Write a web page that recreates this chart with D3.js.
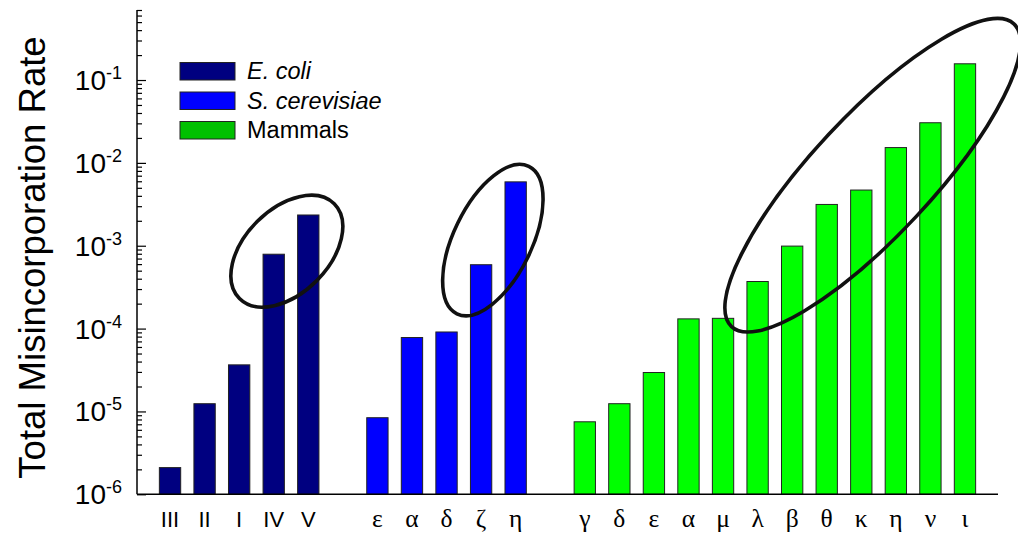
<!DOCTYPE html>
<html><head><meta charset="utf-8">
<script src="https://cdn.jsdelivr.net/npm/d3@7"></script>
<style>body{margin:0;background:#fff} svg{display:block}</style>
</head><body>
<svg id="chart" width="1018" height="533"></svg>
<script>
// ---- data ----
const ecoliLabels = ["III", "II", "I", "IV", "V"];
const ecoliValues = [2.1e-6, 1.24e-5, 3.65e-5, 7.9e-4, 2.35e-3];
const yeastLabels = ["ε", "α", "δ", "ζ", "η"];
const yeastValues = [8.4e-6, 7.8e-5, 9.1e-5, 5.9e-4, 5.9e-3];
const mammalLabels = ["γ", "δ", "ε", "α", "μ", "λ", "β", "θ", "κ", "η", "ν", "ι"];
const mammalValues = [7.5e-6, 1.24e-5, 2.95e-5, 1.31e-4, 1.33e-4, 3.7e-4, 9.9e-4, 3.15e-3, 4.7e-3, 1.53e-2, 3.05e-2, 0.157];
const seriesNames = ["E. coli", "S. cerevisiae", "Mammals"];
const yTickExponents = [-6, -5, -4, -3, -2, -1];
const yTitle = "Total Misincorporation Rate";

// ---- styling / layout ----
const W = 1018, H = 533;
const margin = {left: 137, right: 20, top: 10, bottom: 38.7};
const barColors = ["#000080", "#0000ff", "#00ff00"];
const legendColors = ["#000080", "#0000ff", "#00c000"];
const labelFonts = ["Liberation Sans, Arial, sans-serif", "Liberation Serif, Times New Roman, serif", "Liberation Serif, Times New Roman, serif"];
const labelSizes = [22, 25.5, 25.5];

const groups = [
  {name: seriesNames[0], labels: ecoliLabels, values: ecoliValues},
  {name: seriesNames[1], labels: yeastLabels, values: yeastValues},
  {name: seriesNames[2], labels: mammalLabels, values: mammalValues}
];

const slots = [];
groups.forEach((g, gi) => {
  if (gi > 0) slots.push({key: "gap" + gi, gap: true});
  g.labels.forEach((l, i) => slots.push({key: g.name + "|" + l, label: l, value: g.values[i], gi}));
});
const bars = slots.filter(s => !s.gap);

const svg = d3.select("#chart");
const x = d3.scaleBand().domain(slots.map(s => s.key))
  .range([margin.left, 998]).paddingInner(0.383).paddingOuter(0.647);
const y = d3.scaleLog().domain([1e-6, 0.7]).range([H - margin.bottom, margin.top]);

// bars
svg.append("g").selectAll("rect").data(bars).join("rect")
  .attr("x", d => x(d.key))
  .attr("width", x.bandwidth())
  .attr("y", d => y(d.value))
  .attr("height", d => y(1e-6) - y(d.value))
  .attr("fill", d => barColors[d.gi])
  .attr("stroke", "#222").attr("stroke-width", 1);

// y axis ticks (pointing inward)
const majors = yTickExponents.map(e => Math.pow(10, e));
const minors = [];
yTickExponents.forEach(e => { for (let k = 2; k <= 9; k++) { const v = k * Math.pow(10, e); if (v <= 0.7 + 1e-12) minors.push(v); } });

const yAxisMajor = d3.axisLeft(y).tickValues(majors).tickSizeInner(-9).tickSizeOuter(0).tickFormat("");
const yAxisMinor = d3.axisLeft(y).tickValues(minors).tickSizeInner(-5).tickSizeOuter(0).tickFormat("");
const gy1 = svg.append("g").attr("transform", `translate(${margin.left},0)`).call(yAxisMajor);
const gy2 = svg.append("g").attr("transform", `translate(${margin.left},0)`).call(yAxisMinor);
[gy1, gy2].forEach(g => { g.select(".domain").remove(); g.selectAll("line").attr("stroke", "#000").attr("stroke-width", 1.2); });

// axis lines
svg.append("line").attr("x1", margin.left).attr("x2", margin.left)
  .attr("y1", y(0.7)).attr("y2", y(1e-6)).attr("stroke", "#000").attr("stroke-width", 1.5);
svg.append("line").attr("x1", margin.left).attr("x2", 998)
  .attr("y1", y(1e-6)).attr("y2", y(1e-6)).attr("stroke", "#000").attr("stroke-width", 1.5);

// y tick labels 10^n
const tl = svg.append("g").selectAll("text").data(yTickExponents).join("text")
  .attr("x", 122).attr("y", e => y(Math.pow(10, e)) + 10)
  .attr("text-anchor", "end")
  .attr("font-family", "Liberation Sans, Arial, sans-serif")
  .attr("font-size", 28).attr("fill", "#000");
tl.append("tspan").text("10");
tl.append("tspan").attr("font-size", 18).attr("dy", -11).text(e => "-" + Math.abs(e));

// y title
svg.append("text")
  .attr("transform", `translate(45,${257.5}) rotate(-90)`)
  .attr("text-anchor", "middle")
  .attr("font-family", "Liberation Sans, Arial, sans-serif")
  .attr("font-size", 36.5).attr("fill", "#000").text(yTitle);

// x category labels
svg.append("g").selectAll("text").data(bars).join("text")
  .attr("x", d => x(d.key) + x.bandwidth() / 2)
  .attr("y", 527)
  .attr("text-anchor", "middle")
  .attr("font-family", d => labelFonts[d.gi])
  .attr("font-size", d => labelSizes[d.gi])
  .attr("fill", "#000").text(d => d.label);

// legend
const lg = svg.append("g").selectAll("g").data(seriesNames).join("g")
  .attr("transform", (d, i) => `translate(180,${62.5 + i * 29.5})`);
lg.append("rect").attr("width", 55).attr("height", 17.5)
  .attr("fill", (d, i) => legendColors[i]).attr("stroke", "#222").attr("stroke-width", 1);
lg.append("text").attr("x", 67).attr("y", 16.5)
  .attr("font-family", "Liberation Sans, Arial, sans-serif")
  .attr("font-size", 23.5)
  .attr("font-style", (d, i) => i < 2 ? "italic" : "normal")
  .attr("fill", "#000").text(d => d);

// highlight ellipses (anchored in data space)
const annotations = [
  {key: seriesNames[0] + "|IV", shift: 0.38, value: 8.6e-4, rx: 67, ry: 42, angle: -45},
  {key: seriesNames[1] + "|ζ", shift: 0.34, value: 1.17e-3, rx: 82, ry: 39, angle: -64},
  {key: seriesNames[2] + "|κ", shift: 0.33, value: 7.1e-3, rx: 207, ry: 60, angle: -47}
];
svg.append("g").selectAll("ellipse").data(annotations).join("ellipse")
  .attr("transform", d => `translate(${x(d.key) + x.bandwidth() / 2 + d.shift * x.step()},${y(d.value)}) rotate(${d.angle})`)
  .attr("rx", d => d.rx).attr("ry", d => d.ry)
  .attr("fill", "none").attr("stroke", "#111").attr("stroke-width", 3.6);
</script>
</body></html>
